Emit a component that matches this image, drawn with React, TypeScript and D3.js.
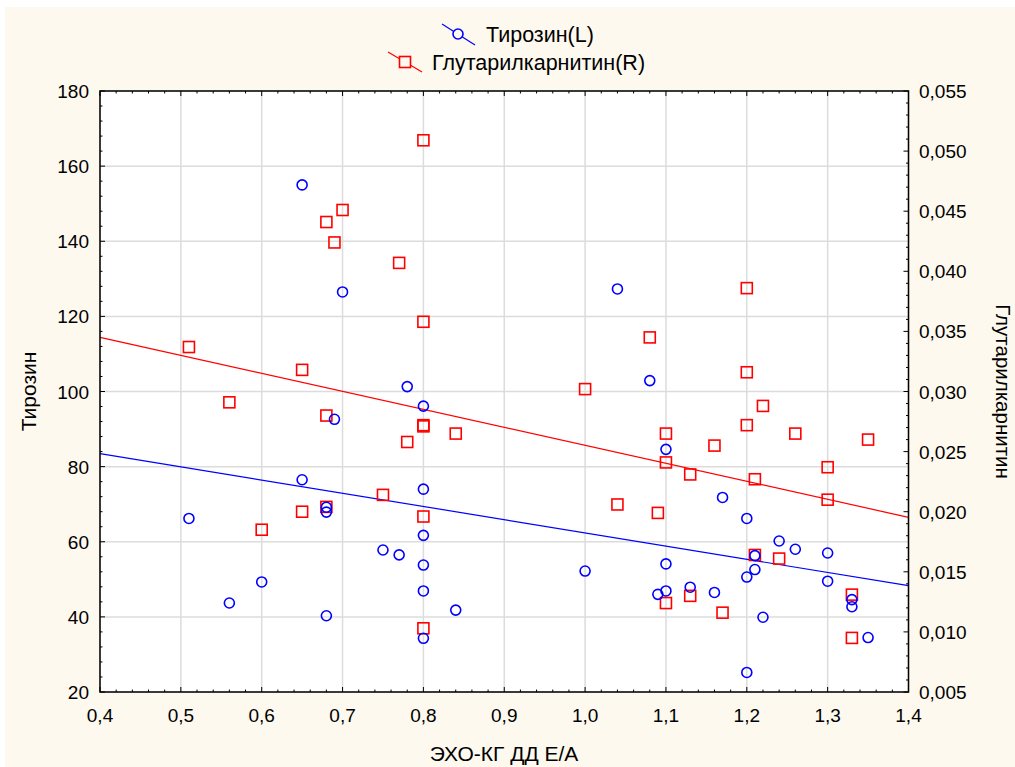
import React from 'react';
import * as d3 from 'd3';

// Тирозин (left axis)
const tyrX = [0.78, 0.8, 0.69, 0.65, 0.8, 0.68, 0.68, 0.51, 0.8, 0.75, 0.77, 0.8, 0.6, 0.8, 0.56, 0.68, 0.8, 0.65, 0.7, 1.04, 1.08, 1.1, 1.17, 1.2, 1.24, 1.26, 1.3, 1.21, 1.21, 1.2, 1.3, 1.1, 1.0, 1.13, 1.1, 1.09, 1.16, 1.33, 1.33, 1.22, 1.35, 1.2, 0.84];
const tyrY = [101.3, 96.1, 92.6, 76.5, 74.0, 69.2, 67.9, 66.2, 61.7, 57.8, 56.5, 53.8, 49.3, 46.9, 43.7, 40.3, 34.3, 155.0, 126.5, 127.3, 102.9, 84.6, 71.8, 66.2, 60.2, 58.0, 57.0, 56.3, 52.6, 50.6, 49.5, 54.1, 52.2, 47.9, 46.9, 46.0, 46.5, 44.6, 42.7, 39.9, 34.5, 25.2, 41.8];

// Глутарилкарнитин (right axis)
const glutX = [0.8, 0.7, 0.68, 0.69, 0.77, 0.8, 0.51, 0.65, 1.2, 1.08, 1.2, 0.56, 0.68, 0.8, 0.8, 0.78, 0.75, 0.65, 0.68, 0.8, 0.6, 0.8, 1.0, 1.22, 1.2, 0.84, 1.1, 1.26, 1.35, 1.16, 1.1, 1.13, 1.3, 1.21, 1.3, 1.04, 1.09, 1.21, 1.24, 1.33, 1.13, 1.1, 1.17, 1.33];
const glutY = [0.0509, 0.0451, 0.0441, 0.0424, 0.0407, 0.0358, 0.0337, 0.0318, 0.0386, 0.0345, 0.0316, 0.0291, 0.0280, 0.0272, 0.0271, 0.0258, 0.0214, 0.0200, 0.0204, 0.0196, 0.0185, 0.0103, 0.0302, 0.0288, 0.0272, 0.0265, 0.0265, 0.0265, 0.0260, 0.0255, 0.0241, 0.0231, 0.0237, 0.0227, 0.0210, 0.0206, 0.0199, 0.0164, 0.0161, 0.0131, 0.0130, 0.0124, 0.0116, 0.0095];

const xTicks = [0.4, 0.5, 0.6, 0.7, 0.8, 0.9, 1.0, 1.1, 1.2, 1.3, 1.4];
const leftTicks = [20, 40, 60, 80, 100, 120, 140, 160, 180];
const rightTicks = [0.005, 0.01, 0.015, 0.02, 0.025, 0.03, 0.035, 0.04, 0.045, 0.05, 0.055];

const W = 1015;
const H = 767;
const plot = { left: 100, top: 91, right: 908.5, bottom: 692 };
const FONT = '"Liberation Sans", Arial, sans-serif';

// простая линейная регрессия
function fit(xs: number[], ys: number[]) {
  const mx = d3.mean(xs)!;
  const my = d3.mean(ys)!;
  let sxy = 0, sxx = 0;
  xs.forEach((x, i) => { sxy += (x - mx) * (ys[i] - my); sxx += (x - mx) * (x - mx); });
  const b = sxy / sxx;
  return (x: number) => my + b * (x - mx);
}

const comma = (d: number, n: number) => d.toFixed(n).replace('.', ',');

export default function App() {
  const x = d3.scaleLinear().domain([0.4, 1.4]).range([plot.left, plot.right]);
  const yL = d3.scaleLinear().domain([20, 180]).range([plot.bottom, plot.top]);
  const yR = d3.scaleLinear().domain([0.005, 0.055]).range([plot.bottom, plot.top]);

  const xMinor = d3.range(0.4, 1.4001, 0.02);
  const lMinor = d3.range(20, 180.01, 4);
  const rMinor = d3.range(0.005, 0.05501, 0.001);

  const fT = fit(tyrX, tyrY);
  const fG = fit(glutX, glutY);
  const tLine = d3.line<number>().x(d => x(d)).y(d => yL(fT(d)))([0.4, 1.4]) || '';
  const gLine = d3.line<number>().x(d => x(d)).y(d => yR(fG(d)))([0.4, 1.4]) || '';

  return (
    <svg width={W} height={H} style={{ position: 'absolute', left: 0, top: 0, fontFamily: FONT }}>
      <rect x={0} y={0} width={W} height={H} fill="#ffffff" />
      <rect x={5} y={7} width={W - 5} height={H - 7} fill="#fdf9ee" />
      <rect x={plot.left} y={plot.top} width={plot.right - plot.left} height={plot.bottom - plot.top} fill="#ffffff" />

      {/* сетка */}
      {xTicks.map(t => (
        <line key={'gx' + t} x1={x(t)} x2={x(t)} y1={plot.top} y2={plot.bottom} stroke="#dcdcdc" strokeWidth={1.5} />
      ))}
      {leftTicks.map(t => (
        <line key={'gy' + t} x1={plot.left} x2={plot.right} y1={yL(t)} y2={yL(t)} stroke="#dcdcdc" strokeWidth={1.5} />
      ))}

      {/* засечки */}
      {xMinor.map((t, i) => {
        const len = i % 5 === 0 ? 5 : 2.5;
        return (
          <g key={'xt' + i} stroke="#000" strokeWidth={1}>
            <line x1={x(t)} x2={x(t)} y1={plot.bottom} y2={plot.bottom - len} />
            <line x1={x(t)} x2={x(t)} y1={plot.top} y2={plot.top + len} />
          </g>
        );
      })}
      {lMinor.map((t, i) => (
        <line key={'lt' + i} x1={plot.left} x2={plot.left + (i % 5 === 0 ? 5 : 2.5)} y1={yL(t)} y2={yL(t)} stroke="#000" />
      ))}
      {rMinor.map((t, i) => (
        <line key={'rt' + i} x1={plot.right} x2={plot.right - (i % 5 === 0 ? 5 : 2.5)} y1={yR(t)} y2={yR(t)} stroke="#000" />
      ))}

      {/* линии регрессии */}
      <path d={tLine} stroke="#0000ff" strokeWidth={1.2} fill="none" />
      <path d={gLine} stroke="#ff0000" strokeWidth={1.2} fill="none" />

      {/* точки */}
      {glutX.map((v, i) => (
        <rect key={'g' + i} x={x(v) - 5.5} y={yR(glutY[i]) - 5.5} width={11} height={11} fill="none" stroke="#ff0000" strokeWidth={1.6} />
      ))}
      {tyrX.map((v, i) => (
        <circle key={'t' + i} cx={x(v)} cy={yL(tyrY[i])} r={5} fill="none" stroke="#0000ff" strokeWidth={1.6} />
      ))}

      <rect x={plot.left} y={plot.top} width={plot.right - plot.left} height={plot.bottom - plot.top} fill="none" stroke="#000" strokeWidth={1.5} />

      {/* подписи осей */}
      {xTicks.map(t => (
        <text key={'xl' + t} x={x(t)} y={722} textAnchor="middle" fontSize={19}>{comma(t, 1)}</text>
      ))}
      {leftTicks.map(t => (
        <text key={'ll' + t} x={89} y={yL(t) + 7} textAnchor="end" fontSize={19}>{t}</text>
      ))}
      {rightTicks.map(t => (
        <text key={'rl' + t} x={919} y={yR(t) + 7} textAnchor="start" fontSize={19}>{comma(t, 3)}</text>
      ))}

      <text x={504} y={761} textAnchor="middle" fontSize={21}>ЭХО-КГ ДД Е/А</text>
      <text transform={`translate(36,${(plot.top + plot.bottom) / 2}) rotate(-90)`} textAnchor="middle" fontSize={21}>Тирозин</text>
      <text transform={`translate(996,${(plot.top + plot.bottom) / 2}) rotate(90)`} textAnchor="middle" fontSize={20.5}>Глутарилкарнитин</text>

      {/* легенда */}
      <line x1={442} y1={24} x2={475} y2={45} stroke="#0000ff" strokeWidth={1.2} />
      <circle cx={458} cy={34} r={5} fill="#fdf9ee" stroke="#0000ff" strokeWidth={1.6} />
      <text x={486} y={42} fontSize={21.5}>Тирозин(L)</text>
      <line x1={388} y1={52} x2={422} y2={72} stroke="#ff0000" strokeWidth={1.2} />
      <rect x={399.5} y={56.5} width={11} height={11} fill="#fdf9ee" stroke="#ff0000" strokeWidth={1.6} />
      <text x={432} y={70} fontSize={21.5}>Глутарилкарнитин(R)</text>
    </svg>
  );
}
